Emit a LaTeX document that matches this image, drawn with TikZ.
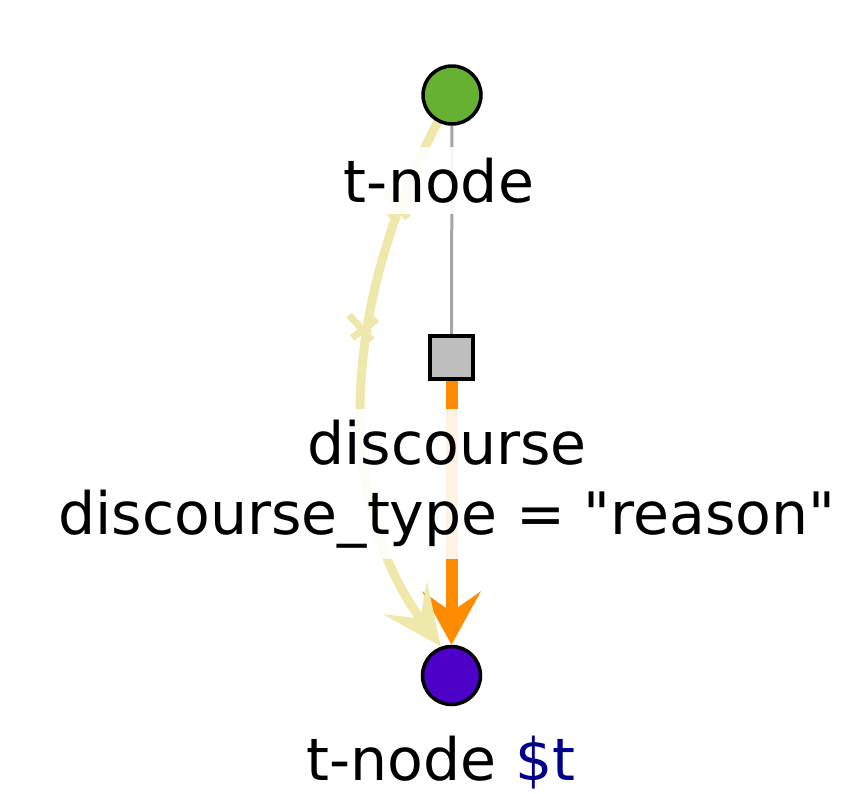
\documentclass[tikz,border=0pt]{standalone}
\usepackage{fontspec}
\setmainfont{DejaVu Sans}[Ligatures=TeXOff]
\usetikzlibrary{arrows.meta}
\definecolor{nodegreen}{RGB}{102,176,50}
\definecolor{nodepurple}{RGB}{76,0,200}
\definecolor{slotgray}{RGB}{190,190,190}
\definecolor{edgegray}{RGB}{165,165,165}
\definecolor{edgeorange}{RGB}{255,140,0}
\definecolor{edgeyellow}{RGB}{238,232,170}
\definecolor{varblue}{RGB}{0,0,139}
\pgfdeclarelayer{background}
\pgfsetlayers{background,main}

\begin{document}
\begin{tikzpicture}[x=1pt,y=-1pt,
  tnode/.style={circle,draw=black,line width=3.5pt,minimum size=58pt,inner sep=0pt},
  slotbox/.style={rectangle,draw=black,line width=3.5pt,fill=slotgray,minimum size=43pt,inner sep=0pt},
  lbl/.style={font=\fontsize{58.5}{70}\selectfont,fill=white,fill opacity=0.9,text opacity=1,inner sep=11pt,align=center},
  grayedge/.style={edgegray,line width=3pt},
  orangeedge/.style={edgeorange,line width=12pt,-{Stealth[length=53pt,width=58pt,inset=20pt]}},
  yellowedge/.style={edgeyellow,line width=9pt,-{Stealth[length=60pt,width=54pt,inset=25pt]}},
  crossmark/.style={edgeyellow,line width=7pt}
]
\useasboundingbox (0,0) rectangle (853,793);

% nodes
\node[tnode,fill=nodegreen] (top) at (452,95) {};
\node[slotbox] (sq) at (451.5,357.5) {};
\node[tnode,fill=nodepurple] (bot) at (451.5,675.5) {};

% labels
\node[lbl,anchor=base] (toplabel) at (439,202) {t-node};
\node[lbl,anchor=center] (sqlabel) at (447,484) {discourse\\discourse\_type = "reason"};
\node[lbl,anchor=base,inner sep=0pt,fill=none] (botlabel) at (441,780) {t-node {\color{varblue}\$t}};

% edges
\begin{pgfonlayer}{background}
  \draw[grayedge] (top) -- (sq);
  \draw[orangeedge] (sq) -- (bot);
  \draw[yellowedge] (top) .. controls (340,308) and (334,502) .. (bot.110);
  \coordinate (xa) at (362,328);
  \coordinate (xb) at (398,206);
  \draw[crossmark] ([shift={(-13,-13)}]xa) -- ([shift={(10,12)}]xa)
                   ([shift={(-10,10)}]xa) -- ([shift={(15,-9)}]xa);
  \draw[crossmark] ([shift={(-13,-13)}]xb) -- ([shift={(10,12)}]xb)
                   ([shift={(-10,10)}]xb) -- ([shift={(15,-9)}]xb);
\end{pgfonlayer}
\end{tikzpicture}
\end{document}
